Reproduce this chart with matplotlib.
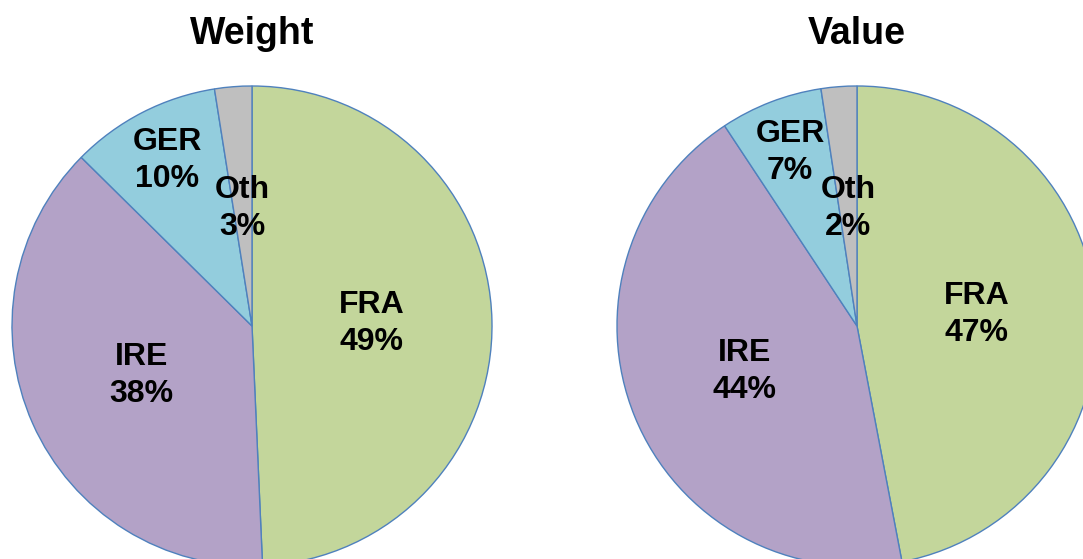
import numpy as np
import matplotlib.pyplot as plt

plt.rcParams['font.family'] = ['Liberation Sans', 'DejaVu Sans']

categories = ['FRA', 'IRE', 'GER', 'Oth']
weight_share = [49.3, 38.1, 10.1, 2.5]
value_share = [47.0, 43.7, 6.9, 2.4]
colors = ['#C3D69B', '#B3A2C7', '#93CDDD', '#BFBFBF']
# how far out each label sits (fraction of radius)
label_dist = [0.5, 0.505, 0.775, 0.49]

W, H = 1083, 559
fig = plt.figure(figsize=(W / 100, H / 100), dpi=100)


def draw_pie(cx, cy, r, shares, title):
    # cx, cy, r in pixels (image coords, y down)
    ax = fig.add_axes([(cx - r) / W, (H - cy - r) / H, 2 * r / W, 2 * r / H])
    wedges, _ = ax.pie(shares, colors=colors, startangle=90, counterclock=False,
                       radius=1, center=(0, 0), frame=False,
                       wedgeprops=dict(edgecolor='#4F81BD', linewidth=1.0))
    ax.set_xlim(-1, 1)
    ax.set_ylim(-1, 1)
    ax.set_aspect('auto')
    ax.axis('off')
    for w, name, v, d in zip(wedges, categories, shares, label_dist):
        ang = np.deg2rad((w.theta1 + w.theta2) / 2)
        ax.text(d * np.cos(ang), d * np.sin(ang), f"{name}\n{int(v + 0.5)}%",
                ha='center', va='center', fontsize=23, fontweight='bold',
                linespacing=1.3, clip_on=False)
    fig.text(cx / W, 1 - 34 / H, title, ha='center', va='center',
             fontsize=27, fontweight='bold')


draw_pie(252, 326, 240, weight_share, 'Weight')
draw_pie(857, 326, 240, value_share, 'Value')

fig.savefig('out.png', dpi=100)
